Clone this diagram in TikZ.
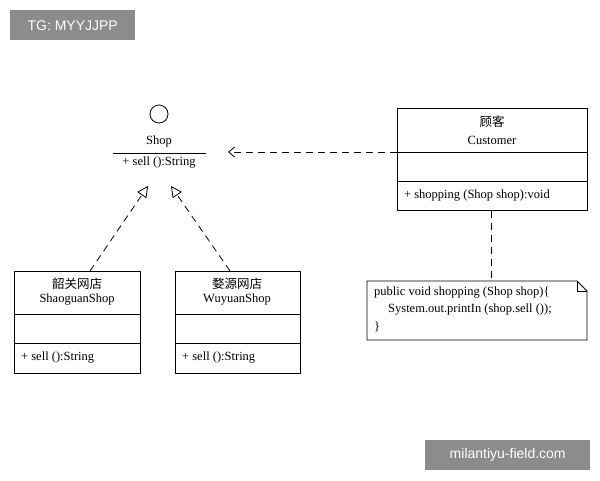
\documentclass[tikz,border=0pt]{standalone}
\usepackage{fontspec}
\setmainfont{Liberation Serif}
\setsansfont{Liberation Sans}
\newfontfamily\cjk{Noto Sans CJK SC}
\usetikzlibrary{arrows.meta,shapes.misc}
\tikzset{
  cls/.style={draw, thick, minimum width=#1, minimum height=102pt, anchor=north west, inner sep=0pt},
  txt/.style={font=\fontsize{12.5}{14}\selectfont, inner sep=0pt},
  dep/.style={thick, dash pattern=on 7pt off 5pt},
  wmark/.style={fill=black!45, text=white, font=\sffamily\fontsize{14}{16}\selectfont, minimum height=30pt, anchor=north west},
}
\begin{document}
\begin{tikzpicture}[x=1pt,y=-1pt]
  \useasboundingbox (0,0) rectangle (600,480);
  \node[wmark, minimum width=125pt] (wmA) at (10,10) {TG: MYYJJPP};
  \node[wmark, minimum width=165pt] (wmB) at (425,440) {milantiyu-field.com};

  % interface
  \draw[thick] (159,114) circle (9pt);
  \node[txt] (shop) at (159,141) {Shop};
  \draw[thick] (113,153) -- (206,153);
  \node[txt] (shopop) at (159,163) {+ sell ():String};
  \coordinate (ifL) at (148,186);
  \coordinate (ifR) at (171,186);
  \coordinate (ifE) at (228,152);

  % customer
  \node[cls=190pt] (cust) at (397,108) {};
  \draw[thick] (397,152) -- (587,152) (397,181) -- (587,181);
  \node[txt] at (492,122) {\cjk 顾客};
  \node[txt] at (492,140) {Customer};
  \node[txt, anchor=west] at (404,196) {+ shopping (Shop shop):void};

  % note
  \draw[thick] (367,281) -- (577,281) -- (587,291) -- (587,340) -- (367,340) -- cycle;
  \draw[thick] (577,281) -- (577,291) -- (587,291);
  \coordinate (note) at (491,281);
  \node[txt, anchor=west] at (374,293) {public void shopping (Shop shop)\{};
  \node[txt, anchor=west] at (388,310) {System.out.printIn (shop.sell ());};
  \node[txt, anchor=west] at (374,327) {\}};

  % shops
  \node[cls=126pt] (sg) at (14,271) {};
  \draw[thick] (14,314) -- (140,314) (14,343) -- (140,343);
  \node[txt] at (77,284) {\cjk 韶关网店};
  \node[txt] at (77,300) {ShaoguanShop};
  \node[txt, anchor=west] at (21,358) {+ sell ():String};

  \node[cls=125pt] (wy) at (175,271) {};
  \draw[thick] (175,314) -- (300,314) (175,343) -- (300,343);
  \node[txt] at (237,284) {\cjk 婺源网店};
  \node[txt] at (237,300) {WuyuanShop};
  \node[txt, anchor=west] at (182,358) {+ sell ():String};

  % connectors
  \draw[dep, -{Straight Barb[length=6pt,width=10pt]}] (cust.west |- 0,152) -- (ifE);
  \draw[dep, -{Triangle[open,length=11pt,width=11pt]}] (sg.north -| 90,0) -- (ifL);
  \draw[dep, -{Triangle[open,length=11pt,width=11pt]}] (wy.north -| 230,0) -- (ifR);
  \draw[dep] (cust.south -| 491,0) -- (note);
\end{tikzpicture}
\end{document}
